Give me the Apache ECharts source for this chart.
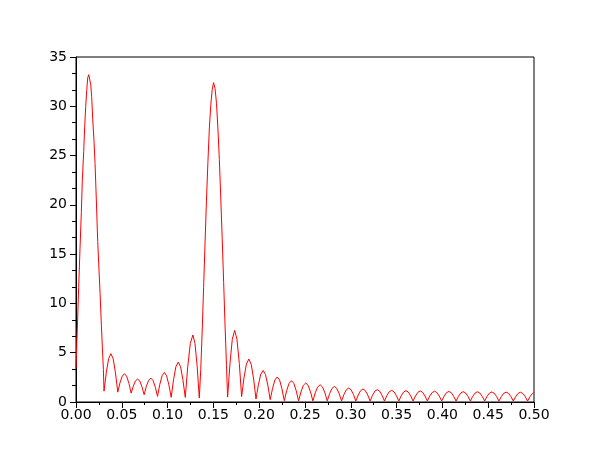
<!DOCTYPE html>
<html>
<head>
<meta charset="utf-8">
<script src="https://cdn.jsdelivr.net/npm/echarts@6/dist/echarts.min.js"></script>
<style>html,body{margin:0;padding:0;background:#fff}#c{width:610px;height:460px}</style>
</head>
<body>
<div id="c"></div>
<script>
// x tick labels
var xTicks = ['0.00','0.05','0.10','0.15','0.20','0.25','0.30','0.35','0.40','0.45','0.50'];
var yTicks = [0,5,10,15,20,25,30,35];

// main lobe 1
var lobe1X = [0.0000,0.0015,0.0029,0.0044,0.0058,0.0069,0.0084,0.0095,0.0106,0.0117,0.0128,0.0139,0.0150,0.0161,0.0171,0.0182,0.0197,0.0208,0.0222,0.0237,0.0252,0.0263,0.0277,0.0288,0.0299];
var lobe1Y = [3.45,7.5,11.6,15.6,19.2,22.5,25.4,27.95,30.0,31.6,32.9,33.2,33.0,32.2,31.0,28.8,26.4,24.2,20.5,16.3,13.2,11.0,7.8,5.5,3.3];

// side lobes between the two peaks
var midX = [0.0306,0.0331,0.0356,0.0381,0.0406,0.0431,
            0.0456,0.0480,0.0505,0.0529,0.0553,0.0578,
            0.0602,0.0626,0.0649,0.0673,0.0697,0.0720,
            0.0744,0.0768,0.0793,0.0817,0.0841,0.0866,
            0.0890,0.0915,0.0940,0.0965,0.0989,0.1014,
            0.1039,0.1065,0.1090,0.1116,0.1142,0.1167,
            0.1193,0.1220,0.1248,0.1276,0.1299,0.1323];
var midY = [1.1,3.0,4.39,4.9,4.38,2.95,
            1.0,1.94,2.62,2.87,2.61,1.89,
            0.9,1.62,2.14,2.33,2.12,1.54,
            0.74,1.59,2.20,2.43,2.18,1.50,
            0.57,1.79,2.67,3.0,2.66,1.74,
            0.47,2.26,3.57,4.05,3.57,2.26,
            0.47,3.6,5.95,6.8,5.95,3.6];

// main lobe 2
var lobe2X = [0.1346,0.1362,0.1378,0.1393,0.1409,0.1424,0.1440,0.1455,0.1471,0.1487,0.1502,0.1518,0.1534,0.1549,0.1565,0.1580,0.1596,0.1612,0.1627,0.1643];
var lobe2Y = [0.4,3.3,7.3,11.6,16.2,20.4,24.3,27.6,30.1,31.7,32.4,31.8,30.3,27.8,24.6,20.8,16.6,12.1,7.8,3.7];

// side lobes to the right
var tailX = [0.1655,0.1681,0.1706,0.1732,0.1757,0.1783,
             0.1808,0.1834,0.1860,0.1887,0.1913,0.1939,
             0.1965,0.1991,0.2017,0.2043,0.2068,0.2094,
             0.2120,0.2146,0.2171,0.2197,0.2223,0.2248,
             0.2274,0.2300,0.2326,0.2352,0.2378,0.2404,
             0.2430,0.2456,0.2482,0.2508,0.2534,0.2560,
             0.2586,0.2612,0.2638,0.2665,0.2691,0.2717,
             0.2743,0.2769,0.2795,0.2821,0.2847,0.2873,
             0.2899,0.2925,0.2951,0.2977,0.3003,0.3029,
             0.3055,0.3081,0.3107,0.3133,0.3159,0.3185,
             0.3211,0.3237,0.3263,0.3289,0.3315,0.3341,
             0.3367,0.3393,0.3419,0.3446,0.3472,0.3498,
             0.3524,0.3550,0.3576,0.3602,0.3628,0.3654,
             0.3680,0.3706,0.3732,0.3758,0.3784,0.3810,
             0.3836,0.3862,0.3888,0.3914,0.3940,0.3966,
             0.3992,0.4018,0.4044,0.4071,0.4097,0.4123,
             0.4149,0.4175,0.4201,0.4227,0.4253,0.4279,
             0.4305,0.4331,0.4357,0.4383,0.4409,0.4435,
             0.4461,0.4487,0.4513,0.4539,0.4565,0.4591,
             0.4617,0.4643,0.4669,0.4696,0.4722,0.4748,
             0.4774,0.4800,0.4826,0.4852,0.4878,0.4904,
             0.4930,0.4956,0.4982,0.5000];
var tailY = [0.5,3.88,6.35,7.26,6.36,3.9,
             0.55,2.45,3.85,4.36,3.82,2.33,
             0.3,1.75,2.81,3.2,2.8,1.72,
             0.23,1.39,2.23,2.54,2.22,1.34,
             0.13,1.15,1.89,2.16,1.89,1.14,
             0.12,1.03,1.69,1.93,1.69,1.03,
             0.11,0.93,1.53,1.75,1.53,0.93,
             0.11,0.85,1.38,1.58,1.38,0.85,
             0.1,0.76,1.24,1.42,1.24,0.76,
             0.1,0.71,1.15,1.32,1.15,0.71,
             0.1,0.68,1.1,1.25,1.1,0.68,
             0.1,0.64,1.04,1.18,1.04,0.64,
             0.1,0.62,1.01,1.15,1.01,0.62,
             0.1,0.61,0.98,1.12,0.98,0.61,
             0.1,0.6,0.96,1.09,0.96,0.6,
             0.1,0.58,0.94,1.07,0.94,0.58,
             0.1,0.57,0.92,1.05,0.92,0.57,
             0.1,0.57,0.91,1.04,0.91,0.57,
             0.1,0.56,0.9,1.02,0.9,0.56,
             0.1,0.55,0.88,1.0,0.88,0.55,
             0.1,0.55,0.87,0.99,0.87,0.55,
             0.1,0.54,0.86,0.97];

var xs = lobe1X.concat(midX, lobe2X, tailX);
var ys = lobe1Y.concat(midY, lobe2Y, tailY);
var pts = xs.map(function (x, i) { return [x, ys[i]]; });

var chart = echarts.init(document.getElementById('c'), null, {renderer: 'canvas'});
var font = 'DejaVu Sans';
chart.setOption({
  animation: false,
  backgroundColor: '#fff',
  grid: {left: 76, top: 57, width: 458, height: 345, show: true, borderColor: '#000', borderWidth: 1, backgroundColor: 'transparent'},
  xAxis: {
    type: 'value', min: 0, max: 0.5, interval: 0.05,
    axisLine: {show: true, lineStyle: {color: '#000', width: 1}},
    axisTick: {show: true, length: 6, lineStyle: {color: '#000'}},
    minorTick: {show: true, splitNumber: 2, length: 3, lineStyle: {color: '#000'}},
    splitLine: {show: false},
    axisLabel: {margin: 6, color: '#000', fontFamily: font, fontSize: 14,
      formatter: function (v) { var i = Math.round(v / 0.05); return xTicks[i] !== undefined ? xTicks[i] : ''; }}
  },
  yAxis: {
    type: 'value', min: yTicks[0], max: yTicks[yTicks.length - 1], interval: 5,
    axisLine: {show: true, lineStyle: {color: '#000', width: 1}},
    axisTick: {show: true, length: 6, lineStyle: {color: '#000'}},
    minorTick: {show: true, splitNumber: 3, length: 4, lineStyle: {color: '#000'}},
    splitLine: {show: false},
    axisLabel: {margin: 9, color: '#000', fontFamily: font, fontSize: 14}
  },
  series: [{
    type: 'line', data: pts, showSymbol: false, symbol: 'none',
    lineStyle: {color: '#ff0000', width: 1}, clip: true
  }]
});
</script>
</body>
</html>
